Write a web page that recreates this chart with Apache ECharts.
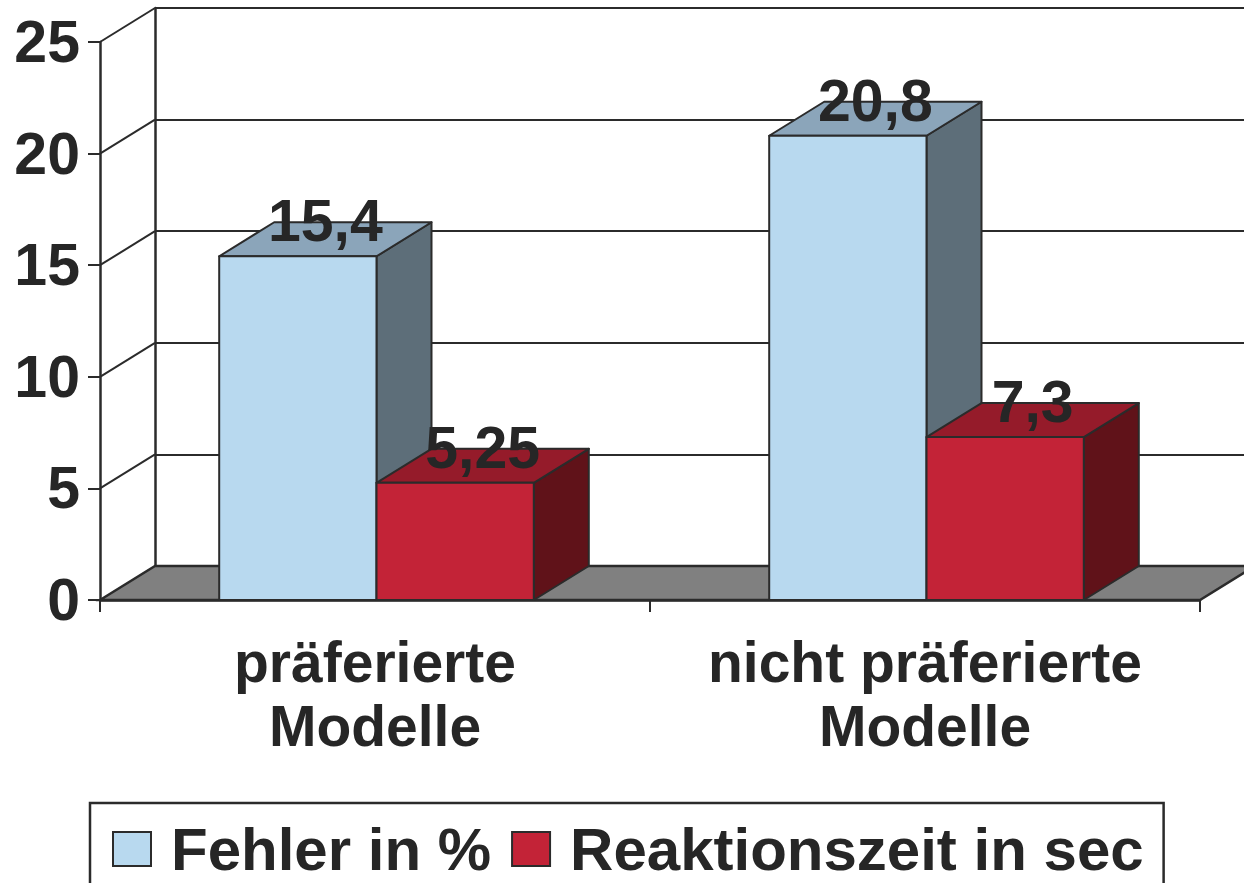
<!DOCTYPE html>
<html>
<head>
<meta charset="utf-8">
<style>
  html, body { margin: 0; padding: 0; background: #ffffff; }
  #chart { width: 1244px; height: 883px; }
</style>
<script src="https://cdn.jsdelivr.net/npm/echarts@6/dist/echarts.min.js"></script>
</head>
<body>
<div id="chart"></div>
<script>
// ---- data ----
const categories = ['präferierte\nModelle', 'nicht präferierte\nModelle'];
const seriesNames = ['Fehler in %', 'Reaktionszeit in sec'];
const fehler = [15.4, 20.8];
const reaktion = [5.25, 7.3];
const yTicks = [0, 5, 10, 15, 20, 25];

// ---- style ----
const FONT = '"Liberation Sans", Arial, sans-serif';
const TXT = '#262626';
const LINE = '#2b2b2b';
const DX = 55, DY = 34;
const palette = [
  { front: '#b8d9ef', top: '#8ba5ba', side: '#5d6e79' },
  { front: '#c32337', top: '#951b2a', side: '#601219' }
];
const fmt = v => String(v).replace('.', ',');

function barRender(idx) {
  return function (params, api) {
    const cat = api.value(0), v = api.value(1);
    const base = api.coord([cat, 0]);
    const top = api.coord([cat, v]);
    const band = api.size([1, 0])[0];
    const w = band * 0.286;
    const x0 = idx === 0 ? base[0] + 1.5 - w : base[0] + 1.5;
    const x1 = x0 + w;
    const yT = top[1], yB = base[1];
    const c = palette[idx];
    const stroke = { stroke: LINE, lineWidth: 2, lineJoin: 'round' };
    return {
      type: 'group',
      children: [
        { type: 'polygon', shape: { points: [[x1, yB], [x1 + DX, yB - DY], [x1 + DX, yT - DY], [x1, yT]] },
          style: Object.assign({ fill: c.side }, stroke) },
        { type: 'polygon', shape: { points: [[x0, yT], [x0 + DX, yT - DY], [x1 + DX, yT - DY], [x1, yT]] },
          style: Object.assign({ fill: c.top }, stroke) },
        { type: 'rect', shape: { x: x0, y: yT, width: w, height: yB - yT },
          style: Object.assign({ fill: c.front }, stroke) },
        { type: 'text', z2: 100,
          style: { text: fmt(v), x: (x0 + x1) / 2 + DX / 2, y: yT - 35, align: 'center', verticalAlign: 'middle',
                   font: 'bold 59px ' + FONT, fill: TXT } }
      ]
    };
  };
}

function frameRender(params, api) {
  const v = api.value(1);
  const p = api.coord([0, v]);
  const band = api.size([1, 0])[0];
  const xL = p[0] - band / 2;
  const xR = api.coord([categories.length - 1, 0])[0] + band / 2;
  const y = p[1];
  if (v === 0) {
    return {
      type: 'polygon',
      shape: { points: [[xL, y], [xL + DX, y - DY], [xR + DX, y - DY], [xR, y]] },
      style: { fill: '#808080', stroke: LINE, lineWidth: 2.5 }
    };
  }
  return {
    type: 'line',
    shape: { x1: xL, y1: y, x2: xL + DX, y2: y - DY },
    style: { stroke: LINE, lineWidth: 2 }
  };
}

const chart = echarts.init(document.getElementById('chart'), null, { renderer: 'svg' });
chart.setOption({
  animation: false,
  backgroundColor: '#ffffff',
  grid: [
    { left: 100, right: 44, top: 42, bottom: 283 },
    { left: 155, right: 0, top: 8, bottom: 317 }
  ],
  xAxis: [
    { gridIndex: 0, type: 'category', data: categories,
      axisLine: { lineStyle: { color: LINE, width: 2.5 } },
      axisTick: { show: true, length: 12, lineStyle: { color: LINE, width: 2 } },
      axisLabel: { interval: 0, fontFamily: FONT, fontWeight: 'bold', fontSize: 57, lineHeight: 64,
                   color: TXT, margin: 30 } },
    { gridIndex: 1, type: 'value', show: false, min: 0, max: 1 }
  ],
  yAxis: [
    { gridIndex: 0, type: 'value', min: 0, max: 25, interval: 5,
      axisLine: { show: true, lineStyle: { color: LINE, width: 2.5 } },
      axisTick: { show: true, length: 12, lineStyle: { color: LINE, width: 2 } },
      splitLine: { show: false },
      axisLabel: { fontFamily: FONT, fontWeight: 'bold', fontSize: 59, color: TXT, margin: 20 } },
    { gridIndex: 1, type: 'value', min: 0, max: 25, interval: 5,
      axisLine: { show: true, lineStyle: { color: LINE, width: 2.5 } },
      axisTick: { show: false }, axisLabel: { show: false },
      splitLine: { show: true, lineStyle: { color: LINE, width: 2 } } }
  ],
  legend: {
    left: 90, top: 803,
    orient: 'horizontal',
    itemWidth: 38, itemHeight: 34, itemGap: 20,
    padding: [16, 20, 40, 22],
    borderColor: LINE, borderWidth: 2.5,
    icon: 'rect',
    textStyle: { fontFamily: FONT, fontWeight: 'bold', fontSize: 60, lineHeight: 52, color: TXT, padding: [0, 0, 0, 15] },
    data: seriesNames.map((n, i) => ({ name: n, itemStyle: { color: palette[i].front, borderColor: LINE, borderWidth: 2 } }))
  },
  series: [
    { type: 'custom', name: 'frame', xAxisIndex: 0, yAxisIndex: 0, silent: true, z: 1,
      data: yTicks.map(v => [0, v]), renderItem: frameRender },
    { type: 'custom', name: seriesNames[0], xAxisIndex: 0, yAxisIndex: 0, z: 3,
      itemStyle: { color: palette[0].front, borderColor: LINE },
      data: fehler.map((v, i) => [i, v]), renderItem: barRender(0) },
    { type: 'custom', name: seriesNames[1], xAxisIndex: 0, yAxisIndex: 0, z: 4,
      itemStyle: { color: palette[1].front, borderColor: LINE },
      data: reaktion.map((v, i) => [i, v]), renderItem: barRender(1) }
  ]
});
</script>
</body>
</html>
